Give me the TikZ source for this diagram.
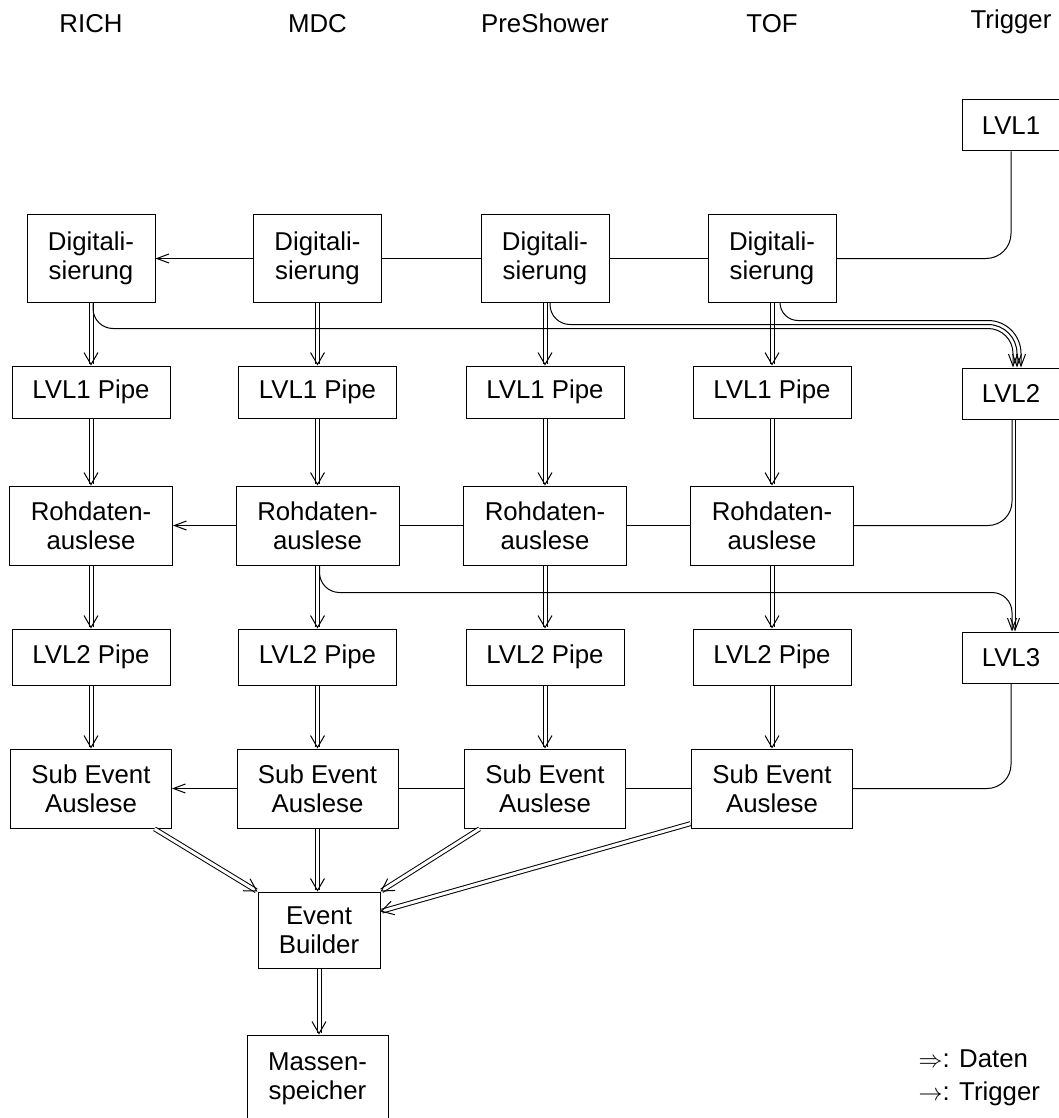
\documentclass[tikz,border=0pt]{standalone}
\usepackage{fontspec}
\setmainfont{Liberation Sans}
\usetikzlibrary{arrows.meta}

\begin{document}
\begin{tikzpicture}[x=0.5pt, y=-0.5pt, line width=0.5pt,
    box/.style={draw, fill=white, align=center, inner sep=0pt, font=\fontsize{12.9}{14.5}\selectfont},
    label/.style={inner sep=0pt, font=\fontsize{12.9}{14.5}\selectfont},
    data/.style={double, double distance=1.5pt, shorten <=0.3pt, -{Straight Barb[length=6pt, width=7pt]}},
    trig/.style={-{Straight Barb[length=6pt, width=4.5pt]}}]
  \useasboundingbox (0,0) rectangle (1059,1118);
  % column heads
  \foreach \i/\x/\t in {1/91/RICH, 2/317.5/MDC, 3/545/PreShower, 4/772/TOF}
    \node[label, anchor=base] (head\i) at (\x,33) {\t};
  \node[label, anchor=base] (head5) at (1011,29) {Trigger};

  % detector columns
  \foreach \i/\x in {1/91, 2/317.5, 3/545, 4/772} {
    \node[box, minimum width=64pt, minimum height=43.5pt] (dig\i) at (\x,258.5) {Digitali-\\sierung};
    \node[box, minimum width=79pt, minimum height=26pt] (pipeA\i) at (\x,392) {LVL1 Pipe};
    \node[box, minimum width=81.5pt, minimum height=39.5pt] (raw\i) at (\x,525.5) {Rohdaten-\\auslese};
    \node[box, minimum width=79pt, minimum height=28pt] (pipeB\i) at (\x,657) {LVL2 Pipe};
    \node[box, minimum width=80.5pt, minimum height=39.5pt] (sub\i) at (\x,788.5) {Sub Event\\Auslese};
    \draw[data] (dig\i) -- (pipeA\i);
    \draw[data] (pipeA\i) -- (raw\i);
    \draw[data] (raw\i) -- (pipeB\i);
    \draw[data] (pipeB\i) -- (sub\i);
  }

  % trigger column
  \node[box, minimum width=49pt, minimum height=25.5pt] (lvl1) at (1011,125.5) {LVL1};
  \node[box, minimum width=49pt, minimum height=25.5pt] (lvl2) at (1011,393.5) {LVL2};
  \node[box, minimum width=49pt, minimum height=25.5pt] (lvl3) at (1011,657.5) {LVL3};

  % event building
  \node[box, minimum width=61pt, minimum height=38pt] (eb) at (319,930) {Event\\Builder};
  \node[box, minimum width=70.5pt, minimum height=43.5pt] (mass) at (317.5,1078.5) {Massen-\\speicher};
  \draw[data] ([xshift=-9pt]sub1.south east) -- (eb.north west);
  \draw[data] (sub2.south) -- (sub2.south |- eb.north);
  \draw[data] ([xshift=8pt]sub3.south west) -- (eb.north east);
  \draw[data] ([yshift=2.5pt]sub4.south west) -- ([yshift=-10pt]eb.north east);
  \draw[data] (eb.south) -- (eb.south |- mass.north);

  % trigger lines
  \draw[rounded corners=12.5pt] (lvl1.south) |- (dig4.east);
  \draw[rounded corners=12pt] ([xshift=0.5pt]lvl2.south) |- (raw4.east);
  \draw[rounded corners=12pt] (lvl3.south) |- (sub4.east);
  \foreach \r in {dig, raw, sub} {
    \draw (\r4.west) -- (\r3.east) (\r3.west) -- (\r2.east);
    \draw[trig] (\r2.west) -- (\r1.east);
  }
  \draw[trig] ([xshift=2pt]lvl2.south) -- ([xshift=2pt]lvl3.north);
  \draw[trig, rounded corners=10pt] ([xshift=1pt]raw2.south) |- ++(300,27) -| ([xshift=0.5pt]lvl3.north);
  \draw[trig, rounded corners=9pt] ([xshift=4pt]dig4.south) |- ++(40,18) [rounded corners=16.5pt] -| ([xshift=5pt]lvl2.north);
  \draw[trig, rounded corners=10pt] ([xshift=2.5pt]dig3.south) |- ++(40,22) [rounded corners=14.5pt] -| ([xshift=3pt]lvl2.north);
  \draw[trig, rounded corners=10pt] ([xshift=1pt]dig1.south) |- ++(40,26) [rounded corners=12.5pt] -| ([xshift=1pt]lvl2.north);

  % legend
  \node[label, anchor=base west] (legdata) at (918,1067) {{\fontsize{12.5}{14}\selectfont$\Rightarrow$}: Daten};
  \node[label, anchor=base west] (legtrig) at (918,1100) {{\fontsize{12.5}{14}\selectfont$\rightarrow$}: Trigger};
\end{tikzpicture}
\end{document}
